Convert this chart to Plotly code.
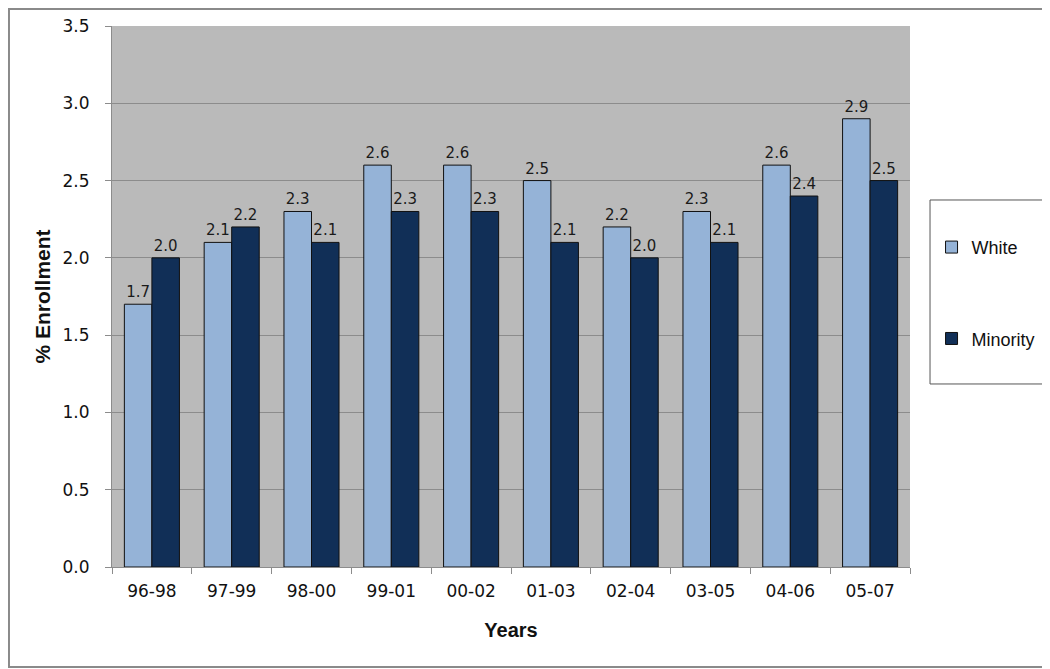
import plotly.graph_objects as go

# Data
years = ["96-98", "97-99", "98-00", "99-01", "00-02", "01-03", "02-04", "03-05", "04-06", "05-07"]
white = [1.7, 2.1, 2.3, 2.6, 2.6, 2.5, 2.2, 2.3, 2.6, 2.9]
minority = [2.0, 2.2, 2.1, 2.3, 2.3, 2.1, 2.0, 2.1, 2.4, 2.5]
y_ticks = [0.0, 0.5, 1.0, 1.5, 2.0, 2.5, 3.0, 3.5]

white_color = '#95B3D7'
minority_color = '#112F57'
label_font = dict(family='DejaVu Sans', size=15, color='#1a1a1a')

fig = go.Figure()
fig.add_trace(go.Bar(
    x=years, y=white, name='White', legendgroup='w',
    marker=dict(color=white_color, line=dict(color='#111111', width=1)),
    texttemplate='%{y:.1f}', textposition='outside', textfont=label_font,
    cliponaxis=False,
))
fig.add_trace(go.Bar(
    x=years, y=minority, name='Minority', legendgroup='m',
    marker=dict(color=minority_color, line=dict(color='#111111', width=1)),
    texttemplate='%{y:.1f}', textposition='outside', textfont=label_font,
    cliponaxis=False,
))

# page body has an 8px margin, so the margins are shifted to compensate
fig.update_layout(
    width=1050, height=669,
    margin=dict(l=104, r=148, t=18, b=110),
    paper_bgcolor='white',
    plot_bgcolor='#BABABA',
    barmode='group',
    bargap=0.31,
    bargroupgap=0,
    showlegend=True,
    legend=dict(
        x=1.027, y=0.625, xanchor='left', yanchor='top',
        font=dict(family='Liberation Sans', size=18, color='#111111'),
        bgcolor='rgba(0,0,0,0)', borderwidth=0,
        tracegroupgap=65, traceorder='grouped',
    ),
)

fig.update_xaxes(
    type='category', automargin=False,
    title=dict(text='<b>Years</b>', font=dict(family='Liberation Sans', size=20, color='#111111'), standoff=22),
    tickfont=dict(family='DejaVu Sans', size=17, color='#111111'),
    ticklabelstandoff=9,
    showline=True, linecolor='#8C8C8C', linewidth=1,
    ticks='outside', ticklen=6, tickcolor='#8C8C8C', tickson='boundaries',
    showgrid=False,
)
fig.update_yaxes(
    automargin=False,
    title=dict(text='<b>% Enrollment</b>', font=dict(family='Liberation Sans', size=21, color='#111111'), standoff=6),
    range=[0, 3.5], tickvals=y_ticks, tickformat='.1f',
    tickfont=dict(family='DejaVu Sans', size=17, color='#111111'),
    ticklabelstandoff=12,
    showline=True, linecolor='#8C8C8C', linewidth=1,
    ticks='outside', ticklen=6, tickcolor='#8C8C8C',
    showgrid=True, gridcolor='#8C8C8C', gridwidth=1,
    zeroline=False,
)

# outer chart border
fig.add_shape(type='rect', xref='paper', yref='paper',
              x0=-0.1291, x1=1.1717, y0=-0.1848, y1=1.0314,
              line=dict(color='#8A8A8A', width=2), fillcolor='rgba(0,0,0,0)')
# legend box
fig.add_shape(type='rect', xref='paper', yref='paper',
              x0=1.0251, x1=1.1667, y0=0.3383, y1=0.6784,
              line=dict(color='#555555', width=1), fillcolor='white', layer='below')

fig.write_html("out.html")
